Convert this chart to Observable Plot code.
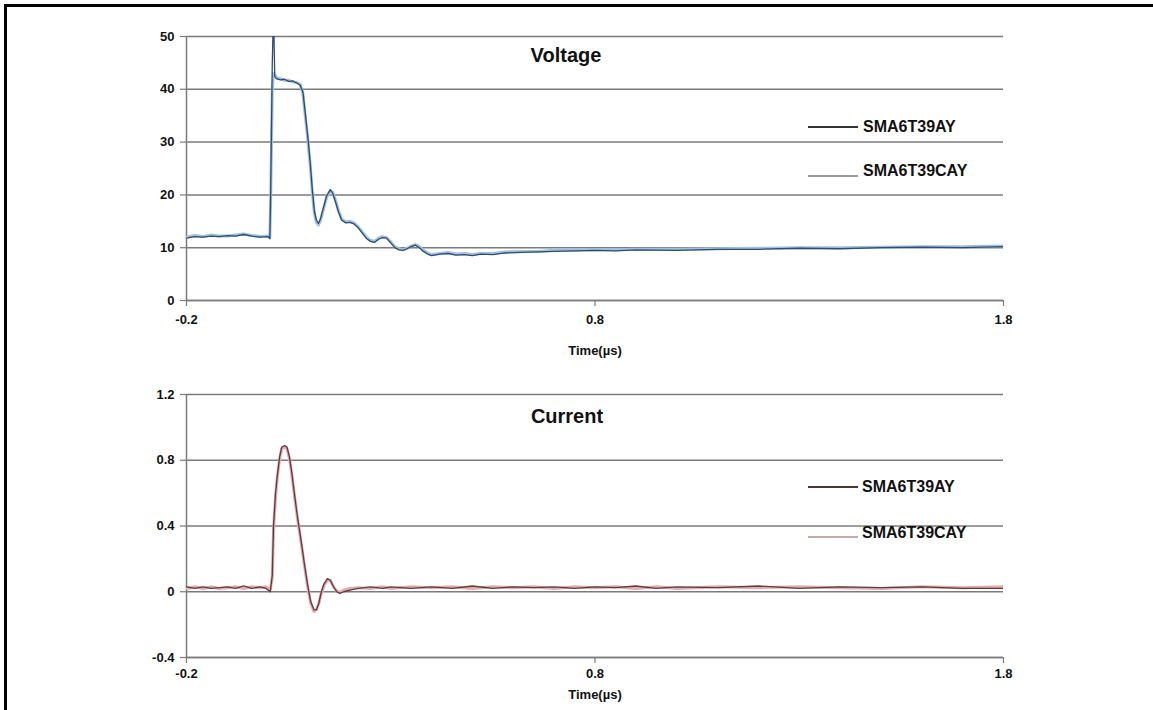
<!DOCTYPE html>
<html><head><meta charset="utf-8">
<script src="https://cdn.jsdelivr.net/npm/d3@7"></script>
<script src="https://cdn.jsdelivr.net/npm/@observablehq/plot@0.6"></script>
<style>
body{margin:0;background:#fff;overflow:hidden;font-family:"Liberation Sans",Arial,sans-serif;}
#page{position:relative;width:1153px;height:710px;overflow:hidden;background:#fff;}
#frame{position:absolute;left:4px;top:4px;width:1200px;height:800px;border:3px solid #000;box-sizing:border-box;}
.abs{position:absolute;}
.ptitle{font-weight:bold;font-size:20px;transform:translate(-50%,-50%);white-space:nowrap;color:#111;}
.lab{font-weight:bold;font-size:16px;transform:translateY(-50%);white-space:nowrap;color:#111;}
.sw{height:0;width:50px;border-top:2px solid;}
svg{position:absolute;left:0;}
</style></head>
<body><div id="page"><div id="frame"></div></div>
<script>
// ---------- data ----------
const xTicks = [-0.2, 0.8, 1.8];
const vTicks = [0, 10, 20, 30, 40, 50];
const iTicks = [-0.4, 0, 0.4, 0.8, 1.2];
const seriesNames = ["SMA6T39AY", "SMA6T39CAY"];

// Voltage (V) vs time (µs)
const vTime = [-0.2,-0.18,-0.16,-0.14,-0.12,-0.1,-0.08,-0.06,-0.04,-0.02,0,0.004,0.006,0.01,0.013,0.016,0.02,0.03,0.04,0.05,0.06,0.07,0.078,0.085,0.09,0.097,0.103,0.108,0.113,0.118,0.123,0.128,0.135,0.143,0.152,0.158,0.165,0.172,0.18,0.19,0.2,0.21,0.22,0.23,0.24,0.25,0.26,0.27,0.28,0.29,0.3,0.31,0.32,0.33,0.34,0.35,0.36,0.37,0.38,0.39,0.4,0.42,0.44,0.46,0.48,0.5,0.52,0.55,0.58,0.62,0.66,0.7,0.75,0.8,0.85,0.9,1.0,1.1,1.2,1.3,1.4,1.5,1.6,1.7,1.8];
const vAY  = [11.8,12.1,12.0,12.2,12.1,12.3,12.2,12.5,12.2,12.0,12.1,11.7,20,45,55,42.5,42.0,41.8,41.9,41.5,41.6,41.2,40.8,39.5,36,31,26,21,17,15.2,14.6,15.5,17.5,19.8,21.0,20.3,18.6,16.8,15.2,14.7,14.8,14.5,13.8,12.8,11.8,11.2,11.0,11.6,11.9,11.8,10.9,10.0,9.6,9.5,9.8,10.2,10.5,10.0,9.3,8.8,8.5,8.8,8.9,8.6,8.7,8.5,8.8,8.7,9.0,9.1,9.2,9.3,9.4,9.5,9.4,9.6,9.5,9.7,9.7,9.9,9.8,10.0,10.1,10.0,10.2];
const vCAY = [12.0,12.3,12.1,12.4,12.2,12.2,12.4,12.6,12.3,12.1,12.2,11.9,19,40,43,42.8,42.2,42.0,41.7,41.7,41.4,41.3,40.9,39.2,35.5,30.5,25.5,20.5,16.5,14.8,14.3,15.2,17.2,19.6,20.8,20.5,18.9,17.0,15.4,14.9,15.0,14.7,14.0,13.0,12.0,11.4,11.2,11.8,12.1,11.9,11.1,10.2,9.8,9.6,9.9,10.3,10.6,10.2,9.5,9.0,8.7,8.9,9.1,8.8,8.9,8.7,8.9,8.9,9.2,9.3,9.3,9.5,9.5,9.6,9.6,9.7,9.7,9.8,9.9,10.0,10.0,10.1,10.2,10.2,10.3];

// Current (A) vs time (µs)
const iTime = [-0.2,-0.18,-0.16,-0.14,-0.12,-0.1,-0.08,-0.06,-0.04,-0.02,-0.005,0.005,0.01,0.013,0.018,0.022,0.028,0.033,0.04,0.046,0.052,0.058,0.065,0.072,0.08,0.088,0.096,0.104,0.112,0.118,0.124,0.13,0.137,0.145,0.152,0.16,0.168,0.175,0.185,0.2,0.22,0.25,0.28,0.3,0.35,0.4,0.45,0.5,0.55,0.6,0.65,0.7,0.75,0.8,0.85,0.9,0.95,1.0,1.1,1.2,1.3,1.4,1.5,1.6,1.7,1.8];
const iAY  = [0.03,0.02,0.03,0.02,0.025,0.03,0.02,0.035,0.02,0.03,0.02,0.0,0.1,0.4,0.6,0.7,0.82,0.88,0.89,0.88,0.82,0.72,0.58,0.45,0.32,0.18,0.05,-0.06,-0.11,-0.11,-0.07,0.0,0.05,0.08,0.07,0.03,0.0,-0.01,0.0,0.01,0.02,0.03,0.02,0.03,0.02,0.03,0.02,0.035,0.02,0.03,0.025,0.03,0.02,0.03,0.025,0.035,0.02,0.03,0.025,0.035,0.02,0.03,0.025,0.03,0.02,0.02];
const iCAY = [0.02,0.03,0.02,0.03,0.02,0.025,0.03,0.02,0.03,0.025,0.03,0.01,0.09,0.38,0.58,0.69,0.81,0.87,0.88,0.87,0.81,0.71,0.57,0.44,0.31,0.17,0.04,-0.07,-0.12,-0.11,-0.07,-0.01,0.04,0.07,0.07,0.03,0.005,-0.005,0.01,0.02,0.025,0.02,0.03,0.02,0.03,0.025,0.03,0.02,0.03,0.025,0.03,0.02,0.03,0.025,0.03,0.02,0.03,0.02,0.03,0.025,0.03,0.025,0.02,0.03,0.025,0.03];

// ---------- drawing ----------
const FONT = '"Liberation Sans", Arial, Helvetica, sans-serif';
const GRID = "#7b7b7b";
const fmt = d => String(d);
const page = document.getElementById("page");

function panel({top, height, mT, mB, yDomain, yTicks, time, a, b, halo, core, xPad, labelOffset}) {
  const svg = Plot.plot({
    width: 1153, height,
    marginLeft: 186, marginRight: 150, marginTop: mT, marginBottom: mB,
    x: {domain: [-0.2, 1.8]},
    y: {domain: yDomain},
    style: {fontFamily: FONT, fontSize: "13px", fontWeight: "bold", color: "#111", background: "transparent", overflow: "visible"},
    marks: [
      Plot.gridY(yTicks, {stroke: GRID, strokeOpacity: 1, strokeWidth: 1.5}),
      Plot.ruleX([-0.2], {stroke: GRID, strokeWidth: 1.5}),
      Plot.ruleY([yDomain[0]], {stroke: GRID, strokeWidth: 1.5}),
      Plot.axisY(yTicks, {tickSize: 6, tickPadding: 6, stroke: GRID, strokeWidth: 1.2, tickFormat: fmt, label: null}),
      Plot.axisX(xTicks, {tickSize: 6, tickPadding: xPad, stroke: GRID, strokeWidth: 1.2, tickFormat: fmt,
        label: "Time(µs)", labelAnchor: "center", labelArrow: "none", labelOffset}),
      Plot.line(b, {x: time, y: b, stroke: halo, strokeWidth: 3, clip: true}),
      Plot.line(a, {x: time, y: a, stroke: core, strokeWidth: 1.3, clip: true})
    ]
  });
  svg.style.top = top + "px";
  page.appendChild(svg);
}

panel({top: 0, height: 360, mT: 36, mB: 60, yDomain: [0, 50], yTicks: vTicks,
  time: vTime, a: vAY, b: vCAY, halo: "#a3c0dd", core: "#2e4d73", xPad: 8, labelOffset: 54});
panel({top: 360, height: 350, mT: 34, mB: 53, yDomain: [-0.4, 1.2], yTicks: iTicks,
  time: iTime, a: iAY, b: iCAY, halo: "#e8aaaa", core: "#5a3c46", xPad: 5, labelOffset: 41});

// titles and in-plot legends
function add(cls, css, text) {
  const d = document.createElement("div");
  d.className = "abs " + cls;
  Object.assign(d.style, css);
  if (text) d.textContent = text;
  page.appendChild(d);
}
add("ptitle", {left: "566px", top: "55px"}, "Voltage");
add("ptitle", {left: "567px", top: "416px"}, "Current");
const legends = [
  {y: [127, 176], ty: [127, 171], colors: ["#333", "#9a9a9a"], tx: 863},
  {y: [487, 537], ty: [487, 533], colors: ["#4a3636", "#c4aaaa"], tx: 862}
];
legends.forEach(L => seriesNames.forEach((name, k) => {
  add("sw", {left: "808px", top: (L.y[k] - 1) + "px", borderTopColor: L.colors[k]});
  add("lab", {left: L.tx + "px", top: L.ty[k] + "px"}, name);
}));
</script>
</body></html>
